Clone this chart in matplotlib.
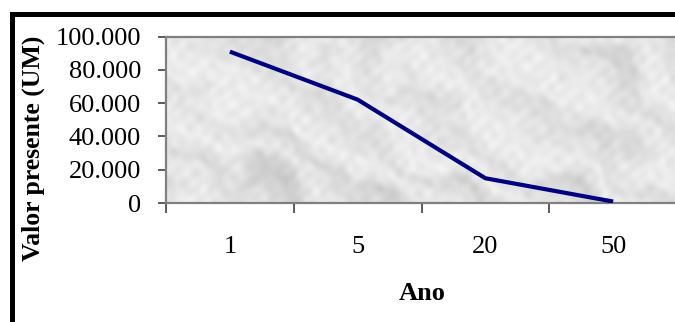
import numpy as np
import matplotlib
matplotlib.use("Agg")
import matplotlib.pyplot as plt
from matplotlib.lines import Line2D
from matplotlib.ticker import FuncFormatter, FixedLocator

# ---- data ----
anos = ["1", "5", "20", "50"]
valor_presente = [90909, 62092, 14864, 852]
y_ticks = [0, 20000, 40000, 60000, 80000, 100000]

plt.rcParams['font.family'] = ['Liberation Serif', 'DejaVu Serif']

W, H = 675, 322
fig = plt.figure(figsize=(W / 100, H / 100), dpi=100)
fig.patch.set_facecolor("white")

ax_l, ax_r, ax_t, ax_b = 166, 677, 36.5, 203
ax = fig.add_axes([ax_l / W, 1 - ax_b / H, (ax_r - ax_l) / W, (ax_b - ax_t) / H])

# marble-like background texture (deterministic, decorative)
ny, nx = 170, 520
yy, xx = np.mgrid[0:ny, 0:nx].astype(float)
turb = np.zeros_like(xx)
params = [(0.011, 0.017, 0.3, 1.0), (0.023, -0.019, 1.7, 0.8), (0.041, 0.032, 2.9, 0.55),
          (0.063, -0.047, 0.8, 0.4), (0.094, 0.071, 4.1, 0.28), (0.14, -0.11, 5.3, 0.18),
          (0.027, 0.051, 3.6, 0.6), (0.057, 0.013, 1.1, 0.45)]
for fx, fy, ph, amp in params:
    turb += amp * np.sin(fx * xx + fy * yy + ph) * np.cos(0.7 * fy * xx - 0.9 * fx * yy + ph * 0.7)
turb = turb / np.abs(turb).max()
fine = np.zeros_like(xx)
fparams = [(0.21, 0.17, 0.5), (0.33, -0.27, 1.9), (0.27, 0.41, 3.3), (0.45, -0.13, 4.7),
           (0.38, 0.31, 2.6), (0.17, -0.36, 0.9)]
for fx, fy, ph in fparams:
    fine += np.sin(fx * xx + fy * yy + ph + 3 * turb)
fine /= len(fparams)
streak = np.sin(0.06 * (xx - 1.3 * yy) + 4.5 * turb)
gray = 0.895 + 0.04 * turb + 0.03 * streak + 0.035 * fine - 0.04 * np.clip(streak * turb, 0, 1)
gray = np.clip(gray, 0.70, 0.98)
ax.imshow(gray, cmap="gray", vmin=0, vmax=1, extent=(-0.5, 3.5, 0, 100000),
          aspect="auto", zorder=0, interpolation="bilinear")

x = np.arange(len(anos))
ax.plot(x, valor_presente, color="#000080", lw=3.0, solid_capstyle="butt", zorder=3)

ax.set_xlim(-0.5, 3.5)
ax.set_ylim(0, 100000)

for s in ax.spines.values():
    s.set_color("#808080")
    s.set_linewidth(1.6)

ax.xaxis.set_major_locator(FixedLocator(np.arange(-0.5, 3.6, 1.0)))
ax.xaxis.set_minor_locator(FixedLocator(x))
ax.xaxis.set_major_formatter(FuncFormatter(lambda v, p: ""))
ax.set_xticklabels(anos, minor=True)
ax.tick_params(axis="x", which="major", direction="out", length=7, width=1.2, color="#404040")
ax.tick_params(axis="x", which="minor", length=0, pad=24, labelsize=19)

ax.set_yticks(y_ticks)
ax.yaxis.set_major_formatter(FuncFormatter(lambda v, p: f"{int(v):,}".replace(",", ".")))
ax.tick_params(axis="y", direction="out", length=6, width=1.2, color="#404040", pad=12, labelsize=19)

fig.text(33 / W, 1 - 148 / H, "Valor presente (UM)", rotation=90, ha="center", va="center",
         fontsize=18.5, fontweight="bold")
fig.text(422 / W, 1 - 293 / H, "Ano", ha="center", va="center", fontsize=19, fontweight="bold")

# outer chart border (top and left visible)
fig.add_artist(Line2D([11.7 / W, 1.0], [1 - 13.5 / H, 1 - 13.5 / H], transform=fig.transFigure,
                      color="black", lw=3.6, solid_capstyle="projecting"))
fig.add_artist(Line2D([11.7 / W, 11.7 / W], [1 - 13.5 / H, 0.0], transform=fig.transFigure,
                      color="black", lw=3.6, solid_capstyle="projecting"))

fig.savefig("out.png", dpi=100)
